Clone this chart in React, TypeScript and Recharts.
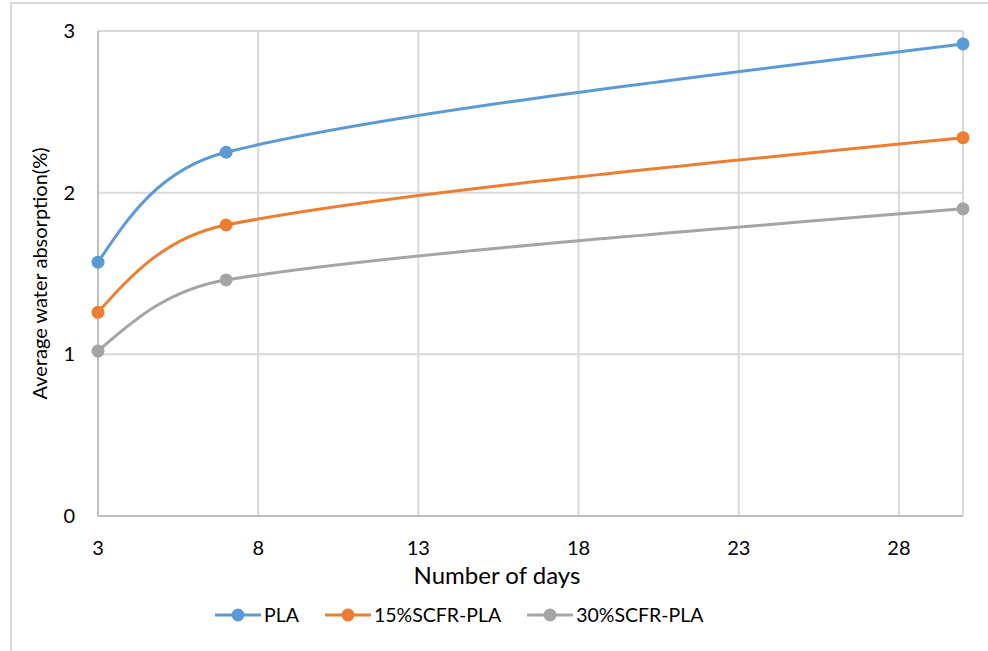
import React from 'react';
import { LineChart, Line, XAxis, YAxis, CartesianGrid, Legend, Label } from 'recharts';

// days measured
const days = [3, 7, 30];
// average water absorption (%) per material
const plaValues = [1.57, 2.25, 2.92];
const scfr15Values = [1.26, 1.80, 2.34];
const scfr30Values = [1.02, 1.46, 1.90];

const xTicks = [3, 8, 13, 18, 23, 28];
const yTicks = [0, 1, 2, 3];

const seriesInfo = [
  { key: 'pla', name: 'PLA', color: '#5B9BD5' },
  { key: 'scfr15', name: '15%SCFR-PLA', color: '#ED7D31' },
  { key: 'scfr30', name: '30%SCFR-PLA', color: '#A5A5A5' },
];

const chartData = days.map((d, i) => ({
  day: d,
  pla: plaValues[i],
  scfr15: scfr15Values[i],
  scfr30: scfr30Values[i],
}));

const FONT = 'Lato, "Open Sans", sans-serif';

// Excel-like smoothing: catmull-rom tangents (1/6), clamped to 0.4 of the segment,
// end points use half way to the neighbouring control point
const excelSmooth = (context: any) => {
  let pts: number[][] = [];
  return {
    areaStart() {},
    areaEnd() {},
    lineStart() {
      pts = [];
    },
    point(x: number, y: number) {
      pts.push([+x, +y]);
    },
    lineEnd() {
      const n = pts.length;
      if (!n) return;
      context.moveTo(pts[0][0], pts[0][1]);
      if (n === 1) return;
      if (n === 2) {
        context.lineTo(pts[1][0], pts[1][1]);
        return;
      }
      const dist = (a: number[], b: number[]) => Math.hypot(b[0] - a[0], b[1] - a[1]);
      // in / out control points for every inner point
      const ctrlIn: number[][] = [];
      const ctrlOut: number[][] = [];
      for (let i = 1; i < n - 1; i++) {
        let tx = (pts[i + 1][0] - pts[i - 1][0]) / 6;
        let ty = (pts[i + 1][1] - pts[i - 1][1]) / 6;
        const tl = Math.hypot(tx, ty) || 1;
        const lIn = Math.min(tl, 0.4 * dist(pts[i - 1], pts[i]));
        const lOut = Math.min(tl, 0.4 * dist(pts[i], pts[i + 1]));
        ctrlIn[i] = [pts[i][0] - (tx / tl) * lIn, pts[i][1] - (ty / tl) * lIn];
        ctrlOut[i] = [pts[i][0] + (tx / tl) * lOut, pts[i][1] + (ty / tl) * lOut];
      }
      ctrlOut[0] = [
        pts[0][0] + (ctrlIn[1][0] - pts[0][0]) * 0.5,
        pts[0][1] + (ctrlIn[1][1] - pts[0][1]) * 0.5,
      ];
      ctrlIn[n - 1] = [
        pts[n - 1][0] + (ctrlOut[n - 2][0] - pts[n - 1][0]) * 0.5,
        pts[n - 1][1] + (ctrlOut[n - 2][1] - pts[n - 1][1]) * 0.5,
      ];
      for (let i = 0; i < n - 1; i++) {
        context.bezierCurveTo(
          ctrlOut[i][0], ctrlOut[i][1],
          ctrlIn[i + 1][0], ctrlIn[i + 1][1],
          pts[i + 1][0], pts[i + 1][1]
        );
      }
    },
  };
};

const CustomLegend = () => (
  <div style={{ display: 'flex', alignItems: 'center', paddingLeft: 215, paddingTop: 7, fontFamily: FONT, fontSize: 19.5, color: '#000' }}>
    {seriesInfo.map((s) => (
      <div key={s.key} style={{ display: 'flex', alignItems: 'center', marginRight: 26 }}>
        <svg width={46} height={16} style={{ marginRight: 3 }}>
          <line x1={0} y1={8} x2={46} y2={8} stroke={s.color} strokeWidth={3} />
          <circle cx={23} cy={8} r={6.5} fill={s.color} />
        </svg>
        <span>{s.name}</span>
      </div>
    ))}
  </div>
);

const App: React.FC = () => {
  return (
    <div style={{ position: 'absolute', left: 0, top: 0, width: 988, height: 651, overflow: 'hidden', background: '#fff' }}>
      <div
        style={{
          position: 'absolute',
          left: 10,
          top: 2,
          width: 1000,
          height: 700,
          border: '2px solid #d9d9d9',
          boxSizing: 'border-box',
        }}
      />
      <div style={{ position: 'absolute', left: 0, top: 0 }}>
        <LineChart
          width={988}
          height={651}
          data={chartData}
          margin={{ top: 31, right: 25, left: 0, bottom: 8 }}
        >
          <CartesianGrid stroke="#d9d9d9" strokeWidth={2} />
          <XAxis
            dataKey="day"
            type="number"
            domain={[3, 30]}
            ticks={xTicks}
            height={80}
            axisLine={{ stroke: '#bfbfbf', strokeWidth: 2 }}
            tickLine={false}
            tickMargin={19}
            tick={{ fill: '#000', fontSize: 20, fontFamily: FONT }}
          >
            <Label
              content={({ viewBox }: any) => (
                <text
                  x={497}
                  y={viewBox.y + 62}
                  textAnchor="middle"
                  dominantBaseline="middle"
                  fontSize={24}
                  fontFamily={FONT}
                  fill="#000"
                >
                  Number of days
                </text>
              )}
            />
          </XAxis>
          <YAxis
            domain={[0, 3]}
            ticks={yTicks}
            width={98}
            axisLine={{ stroke: '#bfbfbf', strokeWidth: 2 }}
            tickLine={false}
            tickMargin={17}
            tick={{ fill: '#000', fontSize: 20, fontFamily: FONT }}
          >
            <Label
              content={({ viewBox }: any) => (
                <text
                  x={42}
                  y={viewBox.y + viewBox.height / 2}
                  transform={`rotate(-90, 42, ${viewBox.y + viewBox.height / 2})`}
                  textAnchor="middle"
                  dominantBaseline="middle"
                  fontSize={20}
                  fontFamily={FONT}
                  fill="#000"
                >
                  Average water absorption(%)
                </text>
              )}
            />
          </YAxis>
          <Legend verticalAlign="bottom" height={47} content={<CustomLegend />} />
          {seriesInfo.map((s) => (
            <Line
              key={s.key}
              type={excelSmooth as any}
              dataKey={s.key}
              name={s.name}
              stroke={s.color}
              strokeWidth={3}
              dot={{ r: 6.5, fill: s.color, stroke: s.color, strokeWidth: 0 }}
              activeDot={false}
              isAnimationActive={false}
            />
          ))}
        </LineChart>
      </div>
    </div>
  );
};

export default App;
